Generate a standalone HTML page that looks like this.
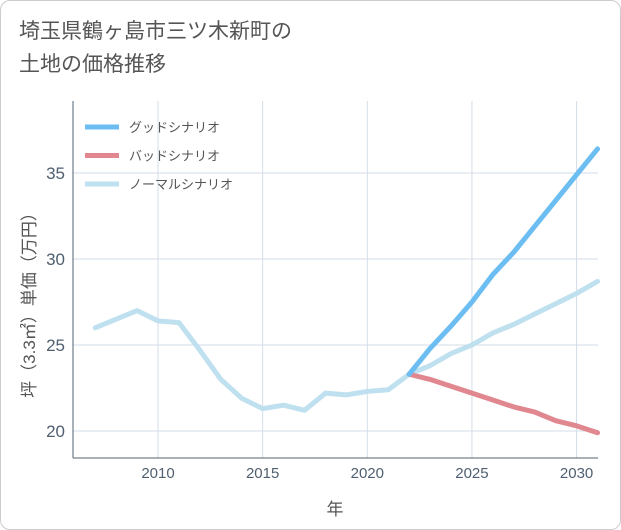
<!DOCTYPE html>
<html><head><meta charset="utf-8">
<style>
body{margin:0;background:#fff;}
#wrap{position:relative;width:619px;height:528px;border:1px solid #ccc;border-radius:10px;background:#fff;overflow:hidden;font-family:"Liberation Sans","Noto Sans CJK JP",sans-serif;}
#title{position:absolute;left:18px;top:14px;font-size:21px;line-height:33px;color:#555;}
svg{position:absolute;left:0;top:0;}
</style></head><body>
<div id="wrap">
<div id="title">埼玉県鶴ヶ島市三ツ木新町の<br>土地の価格推移</div>
<svg id="c" width="621" height="530"></svg>
</div>
<script>
const years=[2007,2008,2009,2010,2011,2012,2013,2014,2015,2016,2017,2018,2019,2020,2021,2022,2023,2024,2025,2026,2027,2028,2029,2030,2031];
const normalVals=[26.0,26.5,27.0,26.4,26.3,24.7,23.0,21.9,21.3,21.5,21.2,22.2,22.1,22.3,22.4,23.3,23.8,24.5,25.0,25.7,26.2,26.8,27.4,28.0,28.7];
const futureYears=[2022,2023,2024,2025,2026,2027,2028,2029,2030,2031];
const goodVals=[23.3,24.8,26.1,27.5,29.1,30.4,31.9,33.4,34.9,36.4];
const badVals=[23.3,23.0,22.6,22.2,21.8,21.4,21.1,20.6,20.3,19.9];
const xTicks=[2010,2015,2020,2025,2030];
const yTicks=[20,25,30,35];
const legendLabels=["グッドシナリオ","バッドシナリオ","ノーマルシナリオ"];
const colors=["#6bbdf2","#e0878f","#bfe0ef"];

const L=72,R=597,T=100,B=457;
const x=v=>157+(v-2010)*20.93;
const y=v=>430-(v-20)*17.2;
const svg=document.getElementById('c');
const NS='http://www.w3.org/2000/svg';
function mk(t,a){const e=document.createElementNS(NS,t);for(const k in a)e.setAttribute(k,a[k]);svg.appendChild(e);return e;}

xTicks.forEach(t=>{
 const g=mk('line',{x1:x(t),x2:x(t),y1:T,y2:B,stroke:'#d3dde8','stroke-width':1});
 
 
 const tx=mk('text',{x:x(t),y:477,'text-anchor':'middle','font-size':15,fill:'#4f5f70'});
 tx.textContent=t;
 
 
});
yTicks.forEach(t=>{
 const g=mk('line',{x1:L,x2:R,y1:y(t),y2:y(t),stroke:'#d3dde8','stroke-width':1});
 
 
 const tx=mk('text',{x:64,y:y(t)+6,'text-anchor':'end','font-size':17,fill:'#4f5f70'});
 tx.textContent=t;
 
 
});
const ax=mk('line',{x1:L,x2:R,y1:B,y2:B,stroke:'#506070','stroke-width':1});


const ay=mk('line',{x1:L,x2:L,y1:T,y2:B,stroke:'#506070','stroke-width':1});



function line(xs,vs,col,name){
 const p=mk('polyline',{points:xs.map((v,i)=>x(v)+','+y(vs[i])).join(' '),fill:'none',stroke:col,'stroke-width':5,'stroke-linejoin':'round','stroke-linecap':'round'});
 
 
}
line(years,normalVals,colors[2],'normal-scenario-line');
line(futureYears,badVals,colors[1],'bad-scenario-line');
line(futureYears,goodVals,colors[0],'good-scenario-line');

legendLabels.forEach((lb,i)=>{
 const yy=126+i*28.5;
 const l=mk('line',{x1:84,x2:118,y1:yy,y2:yy,stroke:colors[i],'stroke-width':5});
 
 
 const t=mk('text',{x:128,y:yy+5,'font-size':13,fill:'#555'});
 t.textContent=lb;
 
 
});
const xt=mk('text',{x:334,y:514,'text-anchor':'middle','font-size':17,fill:'#555'});
xt.textContent='年';


const yt=mk('text',{x:0,y:0,'text-anchor':'middle','font-size':17,fill:'#555',transform:'translate(34,300) rotate(-90)'});
yt.textContent='坪（3.3㎡）単価（万円）';


</script>
</body></html>
